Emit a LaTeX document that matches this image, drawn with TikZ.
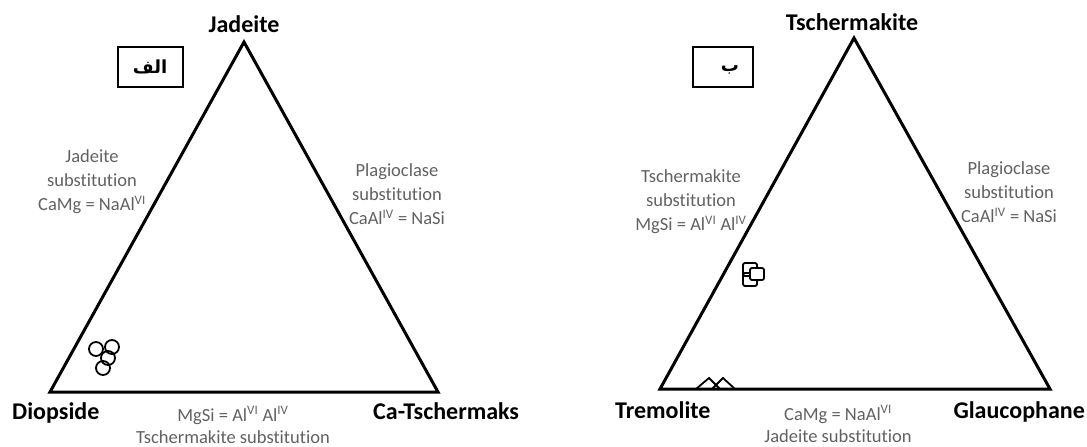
\documentclass[tikz,border=0pt]{standalone}
\usepackage{fontspec}
\setmainfont{Carlito}[Ligatures=NoCommon]
\newfontfamily\arabicfont[Script=Arabic]{DejaVu Sans}
\TeXXeTstate=1
\tikzset{
  vert/.style={font=\bfseries\fontsize{24}{28}\selectfont, inner sep=0pt, anchor=base},
  note/.style={font=\fontsize{18.5}{24}\selectfont, text=black!62, align=center, inner sep=0pt},
  side/.style={line width=3pt},
  tag/.style={line width=2pt},
  mk/.style={line width=1.8pt}
}
\begin{document}
\begin{tikzpicture}[x=1pt,y=-1pt]
\useasboundingbox (0,0) rectangle (1087,447);
% pyroxene
\coordinate (ja) at (244,42);
\coordinate (di) at (50,392);
\coordinate (ct) at (438,392);
\draw [side] (ja)--(di)--(ct)--cycle;
\node[vert] (jad) at (244,32) {Jadeite};
\node[vert,anchor=base west] (dio) at (12,419) {Diopside};
\node[vert,anchor=base west] (cat) at (373,419) {Ca-Tschermaks};
\node[note] (js) at (92,182) {Jadeite\\substitution\\CaMg = NaAl\textsuperscript{VI}};
\node[note] (ps) at (397,194) {Plagioclase\\substitution\\CaAl\textsuperscript{IV} = NaSi};
\node[note,font=\fontsize{18.5}{22}\selectfont] (ts) at (233,425) {MgSi = Al\textsuperscript{VI} Al\textsuperscript{IV}\\Tschermakite substitution};
\draw [tag] (118,47) rectangle (183,87);
\node (alef) at (150,67) {\arabicfont\bfseries\fontsize{18}{20}\selectfont\beginR الف\endR};
\draw [mk] (96,349) circle (7pt);
\draw [mk] (112,347) circle (7pt);
\draw [mk] (108,358) circle (7pt);
\draw [mk] (103,368) circle (7pt);
% amphibole
\coordinate (tk) at (854,38);
\coordinate (tr) at (660,389);
\coordinate (gl) at (1050,389);
\draw [side] (tk)--(tr)--(gl)--cycle;
\node[vert] (tsc) at (852,30) {Tschermakite};
\node[vert,anchor=base west] (tre) at (615,418) {Tremolite};
\node[vert,anchor=base east] (gla) at (1085,418) {Glaucophane};
\node[note] (tss) at (691,202) {Tschermakite\\substitution\\MgSi = Al\textsuperscript{VI} Al\textsuperscript{IV}};
\node[note] (pss) at (1009,192) {Plagioclase\\substitution\\CaAl\textsuperscript{IV} = NaSi};
\node[note,font=\fontsize{18.5}{22}\selectfont] (jss) at (838,424) {CaMg = NaAl\textsuperscript{VI}\\Jadeite substitution};
\draw [tag] (693,47) rectangle (753,87);
\node (be) at (730,70) {\arabicfont\bfseries\fontsize{18}{20}\selectfont\beginR ب\endR};
\draw [mk,rounded corners=2pt] (743,263) rectangle (757,276);
\draw [mk,rounded corners=2pt] (743,273) rectangle (757,286);
\draw [mk,rounded corners=2pt,fill=white] (750,268) rectangle (764,280);
\draw [mk] (696,389)--(709,378)--(720,389);
\draw [mk] (712,389)--(723,378)--(735,389);
\end{tikzpicture}
\end{document}
